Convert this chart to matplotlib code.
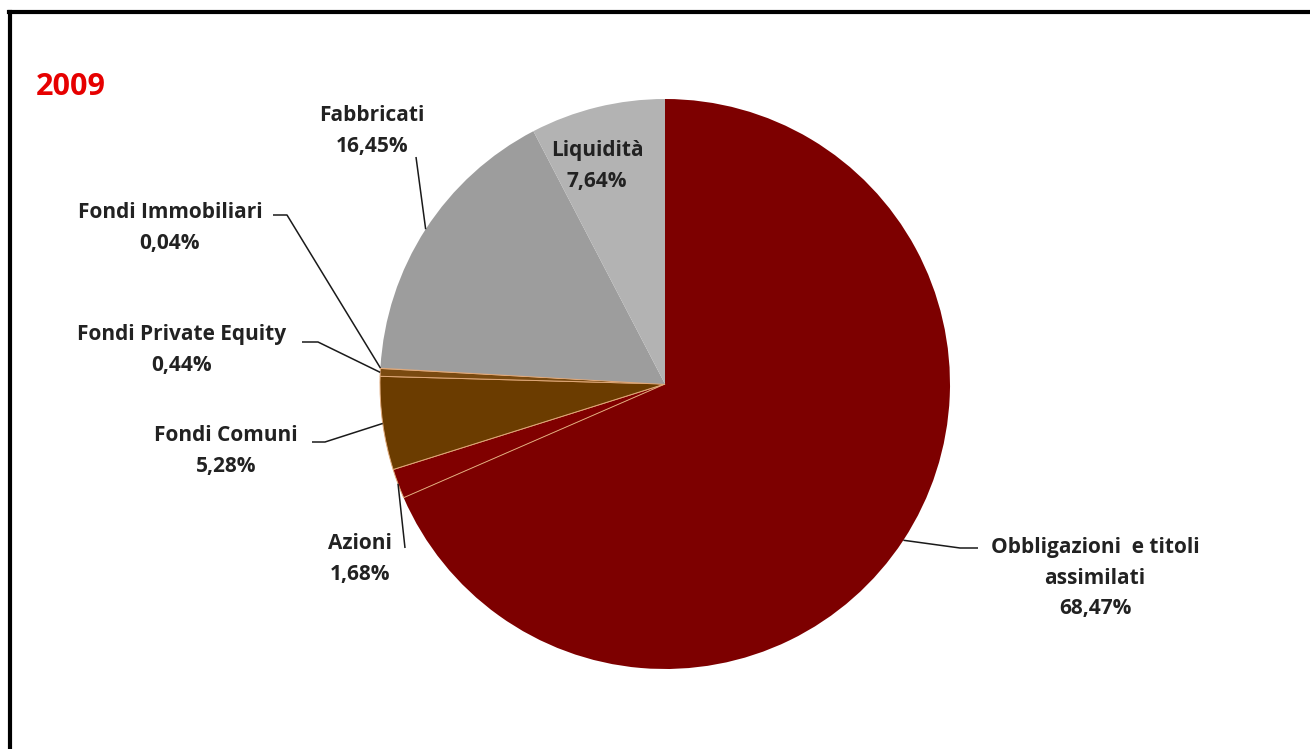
import numpy as np
import matplotlib
matplotlib.use("Agg")
import matplotlib.pyplot as plt
from matplotlib.lines import Line2D

# Portfolio breakdown 2009 (%)
categories = ["Obbligazioni  e titoli\nassimilati", "Azioni", "Fondi Comuni",
              "Fondi Private Equity", "Fondi Immobiliari", "Fabbricati", "Liquidità"]
shares = [68.47, 1.68, 5.28, 0.44, 0.04, 16.45, 7.64]
share_labels = ["68,47%", "1,68%", "5,28%", "0,44%", "0,04%", "16,45%", "7,64%"]
colors = ["#7d0000", "#800000", "#6b3c00", "#7a4a10", "#8b5a2b", "#9d9d9d", "#b3b3b3"]

W, H = 1310, 749
plt.rcParams["font.family"] = ["Open Sans", "DejaVu Sans"]

fig = plt.figure(figsize=(W / 100, H / 100), dpi=100)
fig.patch.set_facecolor("white")
ax = fig.add_axes([0, 0, 1, 1])

cx, cy, r = 665, H - 384, 285
wedges, _ = ax.pie(shares, colors=colors, startangle=90, counterclock=False,
                   center=(cx, cy), radius=r, frame=True,
                   wedgeprops=dict(linewidth=0))
ax.set_xlim(0, W)
ax.set_ylim(0, H)
ax.set_aspect("equal")
ax.axis("off")
for w in wedges[1:5]:
    w.set_edgecolor("#e0a878")
    w.set_linewidth(0.7)


def edge_point(i):
    w = wedges[i]
    a = np.deg2rad((w.theta1 + w.theta2) / 2)
    return cx + r * np.cos(a), cy + r * np.sin(a)


def py(y):
    return H - y


txt = dict(fontsize=15, fontweight="bold", color="#222222",
           ha="center", va="center", linespacing=1.62)

# label text position (pixel coords, top-down) and elbow of the leader line
layout = {
    0: ((1095, 578), [(978, 548), (960, 548)]),
    1: ((360, 559), [(405, 548)]),
    2: ((226, 451), [(312, 442), (325, 442)]),
    3: ((182, 350), [(302, 342), (318, 342)]),
    4: ((170, 228), [(273, 215), (287, 215)]),
    5: ((372, 131), [(416, 157)]),
}

for i, ((tx, ty), elbow) in layout.items():
    ax.text(tx, py(ty), f"{categories[i]}\n{share_labels[i]}", **txt)
    ex, ey = edge_point(i)
    xs = [p[0] for p in elbow] + [ex]
    ys = [py(p[1]) for p in elbow] + [ey]
    ax.plot(xs, ys, color="#1a1a1a", linewidth=1.1, solid_capstyle="butt")

# label inside the Liquidità slice
ax.text(597, py(166), f"{categories[6]}\n{share_labels[6]}", **txt)

ax.text(36, py(87), "2009", fontsize=22, fontweight="bold", color="#e60000",
        ha="left", va="center")

# outer frame (top and left edges visible)
fig.add_artist(Line2D([10 / W, 10 / W], [0, 1 - 12 / H], transform=fig.transFigure,
                      color="black", linewidth=3))
fig.add_artist(Line2D([9 / W, 1], [1 - 12 / H, 1 - 12 / H], transform=fig.transFigure,
                      color="black", linewidth=3))

fig.savefig("out.png", dpi=100, facecolor="white")
